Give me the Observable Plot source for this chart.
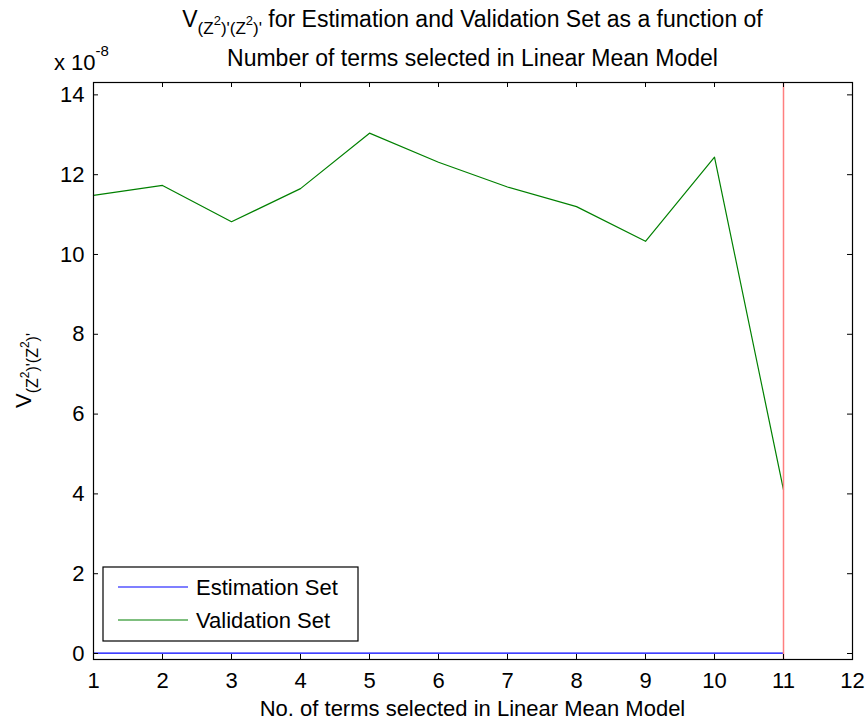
<!DOCTYPE html>
<html>
<head>
<meta charset="utf-8">
<script src="https://cdn.jsdelivr.net/npm/d3@7"></script>
<script src="https://cdn.jsdelivr.net/npm/@observablehq/plot@0.6"></script>
<style>
  html, body { margin: 0; padding: 0; background: #fff; }
  #chart { width: 868px; height: 722px; }
</style>
</head>
<body>
<div id="chart"></div>
<script>
// ---- data (values in units of 1e-8) ----
const terms = [1, 2, 3, 4, 5, 6, 7, 8, 9, 10, 11];
const validationSet = [11.48, 11.73, 10.82, 11.65, 13.04, 12.31, 11.69, 11.20, 10.33, 12.44, 4.10];
const estimationSet = [0.01, 0.01, 0.01, 0.01, 0.01, 0.01, 0.01, 0.01, 0.01, 0.01, 0.01];
const selectedTerms = [11];
const xTicks = [1, 2, 3, 4, 5, 6, 7, 8, 9, 10, 11, 12];
const yTicks = [0, 2, 4, 6, 8, 10, 12, 14];
const xDomain = [1, 12];
const yDomain = [-0.15, 14.31];
const seriesNames = ["Estimation Set", "Validation Set"];
const seriesColors = ["#0000ff", "#008000"];

const W = 868, H = 722;
const mL = 93, mR = 16, mT = 82, mB = 63;
const fw = W - mL - mR, fh = H - mT - mB;
const FONT = "Liberation Sans, Arial, Helvetica, sans-serif";
const FS = 22;

const estRows = terms.map((t, i) => ({x: t, y: estimationSet[i]}));
const valRows = terms.map((t, i) => ({x: t, y: validationSet[i]}));

const chart = Plot.plot({
  width: W, height: H,
  marginLeft: mL, marginRight: mR, marginTop: mT, marginBottom: mB,
  style: {fontFamily: FONT, fontSize: FS + "px", color: "#000", background: "#fff", overflow: "visible"},
  x: {domain: xDomain, label: null},
  y: {domain: yDomain, label: null},
  marks: [
    Plot.line(estRows, {x: "x", y: "y", stroke: seriesColors[0], strokeWidth: 1.2}),
    Plot.line(valRows, {x: "x", y: "y", stroke: seriesColors[1], strokeWidth: 1.2}),
    Plot.ruleX(selectedTerms, {x: d => d, stroke: "#ff7f7f", strokeWidth: 1.5}),
    // inward ticks (MATLAB style)
    Plot.tickX(xTicks, {x: d => d, insetTop: fh - 5, stroke: "#000"}),
    Plot.tickX(xTicks, {x: d => d, insetBottom: fh - 5, stroke: "#000"}),
    Plot.tickY(yTicks, {y: d => d, insetRight: fw - 5, stroke: "#000"}),
    Plot.tickY(yTicks, {y: d => d, insetLeft: fw - 5, stroke: "#000"}),
    Plot.axisX({ticks: xTicks, tickSize: 0, tickPadding: 13, tickFormat: d => String(d), label: null, fontSize: FS}),
    Plot.axisY({ticks: yTicks, tickSize: 0, tickPadding: 9, tickFormat: d => String(d), label: null, fontSize: FS}),
    Plot.frame({stroke: "#000", strokeWidth: 1.2})
  ]
});
document.getElementById("chart").appendChild(chart);

const svg = d3.select(chart);
const cx = mL + fw / 2;

// Title line 1 with sub/superscripts
const t1 = svg.append("text").attr("x", cx).attr("y", 27).attr("text-anchor", "middle")
  .attr("font-family", FONT).attr("font-size", 23).attr("fill", "#000");
t1.append("tspan").text("V");
t1.append("tspan").attr("dy", 7).attr("font-size", 17).text("(Z");
t1.append("tspan").attr("dy", -9).attr("font-size", 13).text("2");
t1.append("tspan").attr("dy", 9).attr("font-size", 17).text(")'(Z");
t1.append("tspan").attr("dy", -9).attr("font-size", 13).text("2");
t1.append("tspan").attr("dy", 9).attr("font-size", 17).text(")'");
t1.append("tspan").attr("dy", -7).text(" for Estimation and Validation Set as a function of");

svg.append("text").attr("x", cx).attr("y", 66).attr("text-anchor", "middle")
  .attr("font-family", FONT).attr("font-size", 23).attr("fill", "#000")
  .text("Number of terms selected in Linear Mean Model");

// exponent label
const ex = svg.append("text").attr("x", 54).attr("y", 70).attr("text-anchor", "start")
  .attr("font-family", FONT).attr("font-size", FS).attr("fill", "#000");
ex.append("tspan").text("x 10");
ex.append("tspan").attr("dy", -14).attr("font-size", 15).text("-8");

// x label
svg.append("text").attr("x", cx).attr("y", 716).attr("text-anchor", "middle")
  .attr("font-family", FONT).attr("font-size", FS).attr("fill", "#000")
  .text("No. of terms selected in Linear Mean Model");

// y label (rotated)
const yl = svg.append("text").attr("transform", `translate(31,${mT + fh / 2}) rotate(-90)`)
  .attr("text-anchor", "middle").attr("font-family", FONT).attr("font-size", FS).attr("fill", "#000");
yl.append("tspan").text("V");
yl.append("tspan").attr("dy", 7).attr("font-size", 16).text("(Z");
yl.append("tspan").attr("dy", -9).attr("font-size", 12).text("2");
yl.append("tspan").attr("dy", 9).attr("font-size", 16).text(")'(Z");
yl.append("tspan").attr("dy", -9).attr("font-size", 12).text("2");
yl.append("tspan").attr("dy", 9).attr("font-size", 16).text(")'");

// legend
const lg = svg.append("g");
lg.append("rect").attr("x", 103).attr("y", 567).attr("width", 255).attr("height", 74)
  .attr("fill", "#fff").attr("stroke", "#000").attr("stroke-width", 1.2);
seriesNames.forEach((name, i) => {
  const yy = 587 + i * 33;
  lg.append("line").attr("x1", 118).attr("x2", 188).attr("y1", yy).attr("y2", yy)
    .attr("stroke", seriesColors[i]).attr("stroke-width", 1.2);
  lg.append("text").attr("x", 196).attr("y", yy + 8).attr("text-anchor", "start")
    .attr("font-family", FONT).attr("font-size", FS).attr("fill", "#000").text(name);
});
</script>
</body>
</html>
